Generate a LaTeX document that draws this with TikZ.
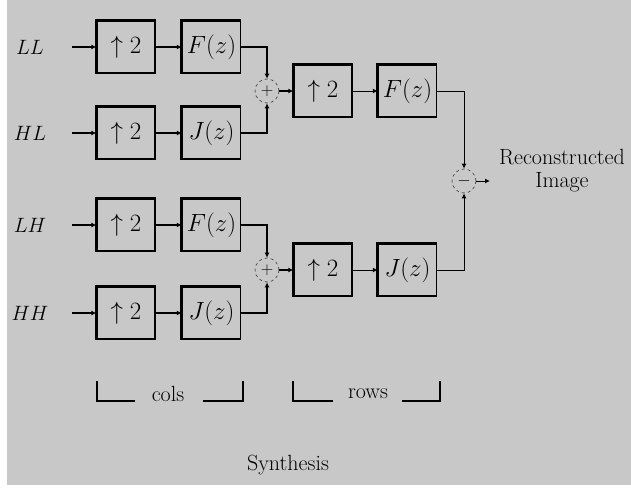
\documentclass[tikz,border=0pt]{standalone}
\usetikzlibrary{arrows.meta}
\definecolor{bg}{RGB}{200,200,200}
\begin{document}
\begin{tikzpicture}[x=1pt,y=-1pt,
  bx/.style={draw, line width=1.4pt, minimum width=58pt, minimum height=52pt, inner sep=0pt, font=\fontsize{23}{26}\selectfont},
  sm/.style={draw=black!70, dashed, circle, minimum size=24pt, inner sep=0pt, line width=0.7pt, font=\fontsize{17}{20}\selectfont},
  ln/.style={line width=1.8pt, -{Latex[length=5pt,width=5pt]}},
  lnt/.style={line width=1pt, -{Latex[length=5pt,width=5pt]}},
  lbl/.style={font=\fontsize{22}{26}\selectfont, inner sep=0pt},
  brk/.style={line width=2.4pt}]
\useasboundingbox (0,0) rectangle (631,487);
\fill[bg] (7,0) rectangle (631,485);
% input labels
\node[lbl] (l1) at (30,47) {$LL$};
\node[lbl] (l2) at (30,133) {$HL$};
\node[lbl] (l3) at (30,225) {$LH$};
\node[lbl] (l4) at (30,313) {$HH$};
\coordinate (i1) at (72,47);
\coordinate (i2) at (72,133);
\coordinate (i3) at (72,225);
\coordinate (i4) at (72,313);
% column stage
\node[bx] (u1) at (126,47) {$\uparrow 2$};
\node[bx] (f1) at (211.5,47) {$F(z)$};
\node[bx] (u2) at (126,133) {$\uparrow 2$};
\node[bx] (j2) at (211.5,133) {$J(z)$};
\node[bx] (u3) at (126,225) {$\uparrow 2$};
\node[bx] (f3) at (211.5,225) {$F(z)$};
\node[bx] (u4) at (126,313) {$\uparrow 2$};
\node[bx] (j4) at (211.5,313) {$J(z)$};
\node[sm] (s1) at (267,91) {$+$};
\node[sm] (s2) at (267,270) {$+$};
% row stage
\node[bx] (u5) at (323,91) {$\uparrow 2$};
\node[bx] (f5) at (407.5,91) {$F(z)$};
\node[bx] (u6) at (323,270) {$\uparrow 2$};
\node[bx] (j6) at (407.5,270) {$J(z)$};
\node[sm] (d) at (464,181) {$-$};
\coordinate (out) at (490,181);
\node[lbl, align=center] (rec) at (562,171) {Reconstructed\\[-3pt]Image};
% thick top/left borders
\foreach \n in {u1,f1,u2,j2,u3,f3,u4,j4,u5,f5,u6,j6}
  \draw[line width=3.2pt] (\n.south west) -- (\n.north west) -- (\n.north east);
% connectors
\foreach \i/\u/\f in {i1/u1/f1,i2/u2/j2,i3/u3/f3,i4/u4/j4} {
  \draw[ln] (\i) -- (\u);
  \draw[ln] (\u) -- (\f);
}
\draw[ln] (f1.east) -| (s1.north);
\draw[ln] (j2.east) -| (s1.south);
\draw[ln] (f3.east) -| (s2.north);
\draw[ln] (j4.east) -| (s2.south);
\draw[ln] (s1) -- (u5);
\draw[ln] (s2) -- (u6);
\draw[lnt] (u5) -- (f5);
\draw[lnt] (u6) -- (j6);
\draw[lnt] (f5.east) -| (d.north);
\draw[lnt] (j6.east) -| (d.south);
\draw[lnt] (d) -- (out);
% brackets
\draw[brk] (97,381) -- (97,401) -- (135,401);
\draw[brk] (203,401) -- (243,401) -- (243,381);
\node[lbl] (cols) at (168,394) {cols};
\draw[brk] (293,381) -- (293,401) -- (333,401);
\draw[brk] (402,401) -- (440,401) -- (440,381);
\node[lbl] (rows) at (368,394) {rows};
\node[lbl] (syn) at (288,465) {Synthesis};
\end{tikzpicture}
\end{document}
